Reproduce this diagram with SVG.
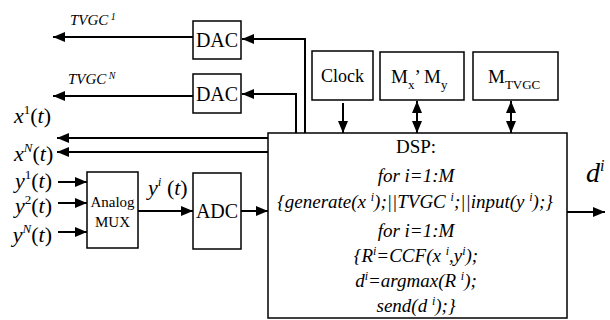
<svg xmlns="http://www.w3.org/2000/svg" width="610" height="320" viewBox="0 0 610 320" font-family="'Liberation Serif', 'DejaVu Serif', serif">
<defs>
<marker id="ah" viewBox="0 0 12 10" refX="12" refY="5" markerWidth="12" markerHeight="10" markerUnits="userSpaceOnUse" orient="auto-start-reverse">
<path d="M0,0 L12,5 L0,10 Z" fill="#000"/>
</marker>
</defs>
<style>
.box{fill:#fff;stroke:#000;stroke-width:1.5}
.ln{fill:none;stroke:#000;stroke-width:2}
text{fill:#000}
.it{font-style:italic}
.c{text-anchor:middle}
</style>
<rect width="610" height="320" fill="#fff"/>
<g id="connectors">
<path class="ln" d="M193,37 H53" marker-end="url(#ah)"/>
<path class="ln" d="M193,96 H53" marker-end="url(#ah)"/>
<path class="ln" d="M305,133 V39 H242" marker-end="url(#ah)"/>
<path class="ln" d="M296,133 V94 H242" marker-end="url(#ah)"/>
<path class="ln" d="M268,138 H57" marker-end="url(#ah)"/>
<path class="ln" d="M268,152 H57" marker-end="url(#ah)"/>
<path class="ln" d="M58,182 H87" marker-end="url(#ah)"/>
<path class="ln" d="M58,203 H87" marker-end="url(#ah)"/>
<path class="ln" d="M58,232 H87" marker-end="url(#ah)"/>
<path class="ln" d="M138,211 H193" marker-end="url(#ah)"/>
<path class="ln" d="M241,211 H268" marker-end="url(#ah)"/>
<path class="ln" d="M343,103 V133" marker-end="url(#ah)"/>
<path class="ln" d="M417,101 V133" marker-start="url(#ah)" marker-end="url(#ah)"/>
<path class="ln" d="M511,101 V133" marker-start="url(#ah)" marker-end="url(#ah)"/>
<path class="ln" d="M567,212 H605" marker-end="url(#ah)"/>
</g>
<g id="dac1">
<rect class="box" x="193" y="21" width="48" height="38"/>
<text class="c" x="217" y="47" font-size="20">DAC</text>
</g>
<g id="dac2">
<rect class="box" x="193" y="74" width="48" height="39"/>
<text class="c" x="217" y="101" font-size="20">DAC</text>
</g>
<g id="clock">
<rect class="box" x="312" y="51" width="61" height="49"/>
<text class="c" x="342.5" y="82" font-size="18">Clock</text>
</g>
<g id="mxmy">
<rect class="box" x="380" y="52" width="84" height="48"/>
<text x="391" y="83" font-size="19">M<tspan font-size="13" dy="6">x</tspan><tspan dy="-6">’ M</tspan><tspan font-size="13" dy="6">y</tspan></text>
</g>
<g id="mtvgc">
<rect class="box" x="473" y="52" width="85" height="48"/>
<text x="488" y="83" font-size="19">M<tspan font-size="13" dy="6">TVGC</tspan></text>
</g>
<g id="mux">
<rect class="box" x="87" y="172" width="51" height="76"/>
<text class="c" x="112.5" y="207" font-size="15">Analog</text>
<text class="c" x="112.5" y="227" font-size="15">MUX</text>
</g>
<g id="adc">
<rect class="box" x="193" y="173" width="48" height="76"/>
<text class="c" x="217" y="218" font-size="20">ADC</text>
</g>
<g id="dsp">
<rect class="box" x="268" y="133" width="299" height="185"/>
<text class="c" x="416" y="153" font-size="19">DSP:</text>
<text class="c it" x="416" y="182" font-size="19">for i=1:M</text>
<text class="c it" x="415" y="208" font-size="19">{generate(x <tspan font-size="12" dy="-7">i</tspan><tspan dy="7">);||TVGC </tspan><tspan font-size="12" dy="-7">i</tspan><tspan dy="7">;||input(y </tspan><tspan font-size="12" dy="-7">i</tspan><tspan dy="7">);}</tspan></text>
<text class="c it" x="416" y="237" font-size="19">for i=1:M</text>
<text class="c it" x="416" y="262" font-size="19">{R<tspan font-size="12" dy="-7">i</tspan><tspan dy="7">=CCF(x </tspan><tspan font-size="12" dy="-7">i</tspan><tspan dy="7">,y</tspan><tspan font-size="12" dy="-7">i</tspan><tspan dy="7">);</tspan></text>
<text class="c it" x="416" y="287" font-size="19">d<tspan font-size="12" dy="-7">i</tspan><tspan dy="7">=argmax(R </tspan><tspan font-size="12" dy="-7">i</tspan><tspan dy="7">);</tspan></text>
<text class="c it" x="416" y="312" font-size="19">send(d <tspan font-size="12" dy="-7">i</tspan><tspan dy="7">);}</tspan></text>
</g>
<g id="labels">
<text class="it" x="70" y="25" font-size="15">TVGC<tspan font-size="10" dy="-5"> 1</tspan></text>
<text class="it" x="68" y="84" font-size="15">TVGC<tspan font-size="10" dy="-5"> N</tspan></text>
<text x="14" y="123" font-size="22"><tspan class="it">x</tspan><tspan font-size="13" dy="-9">1</tspan><tspan dy="9">(</tspan><tspan class="it">t</tspan>)</text>
<text x="14" y="161" font-size="22"><tspan class="it">x</tspan><tspan class="it" font-size="13" dy="-9">N</tspan><tspan dy="9">(</tspan><tspan class="it">t</tspan>)</text>
<text x="52" y="188" font-size="22" text-anchor="end"><tspan class="it">y</tspan><tspan font-size="13" dy="-9">1</tspan><tspan dy="9">(</tspan><tspan class="it">t</tspan>)</text>
<text x="52" y="213" font-size="22" text-anchor="end"><tspan class="it">y</tspan><tspan font-size="13" dy="-9">2</tspan><tspan dy="9">(</tspan><tspan class="it">t</tspan>)</text>
<text x="52" y="242" font-size="22" text-anchor="end"><tspan class="it">y</tspan><tspan class="it" font-size="13" dy="-9">N</tspan><tspan dy="9">(</tspan><tspan class="it">t</tspan>)</text>
<text x="148" y="195" font-size="22"><tspan class="it">y</tspan><tspan class="it" font-size="13" dy="-9">i</tspan><tspan dy="9"> (</tspan><tspan class="it">t</tspan>)</text>
<text class="it" x="586" y="182" font-size="28">d<tspan font-size="16" dy="-11">i</tspan></text>
</g>
</svg>
